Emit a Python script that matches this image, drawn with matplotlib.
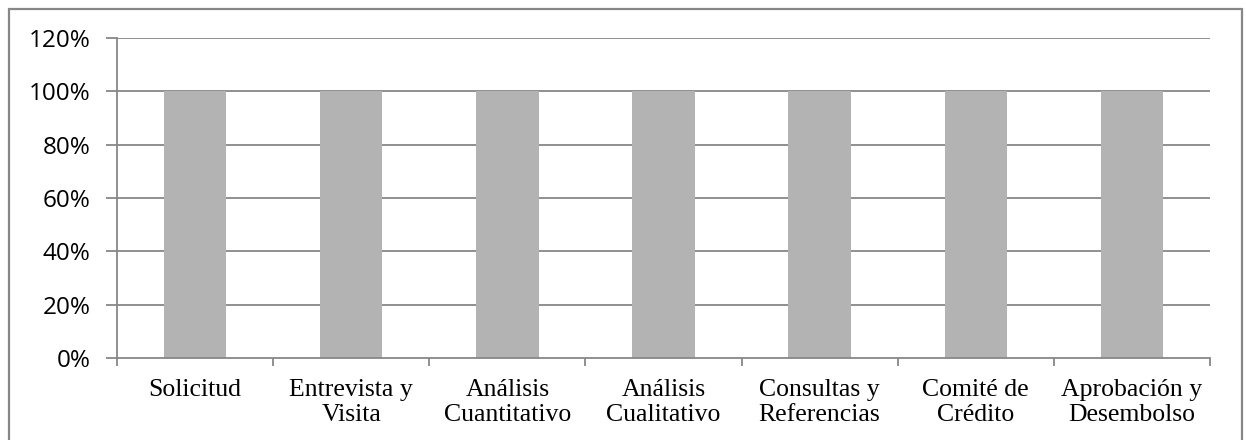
import matplotlib
matplotlib.use("Agg")
import matplotlib.pyplot as plt
from matplotlib.patches import Rectangle
from matplotlib.ticker import FixedLocator

categories = ["Solicitud", "Entrevista y\nVisita", "Análisis\nCuantitativo",
              "Análisis\nCualitativo", "Consultas y\nReferencias",
              "Comité de\nCrédito", "Aprobación y\nDesembolso"]
values = [1.0, 1.0, 1.0, 1.0, 1.0, 1.0, 1.0]
y_ticks = [0.0, 0.2, 0.4, 0.6, 0.8, 1.0, 1.2]
y_labels = ["0%", "20%", "40%", "60%", "80%", "100%", "120%"]

W, H = 1246, 440
fig = plt.figure(figsize=(W / 100, H / 100), dpi=100)

# chart frame (bottom edge runs past the canvas)
fig.patches.append(Rectangle((8.5 / W, -10 / H), 1233 / W, 440.5 / H,
                             transform=fig.transFigure, fill=False,
                             edgecolor="#878787", linewidth=1.6))

left, right, top, bottom = 117, 1210, 38, 358
ax = fig.add_axes([left / W, 1 - bottom / H, (right - left) / W, (bottom - top) / H])

n = len(categories)
x = list(range(n))
ax.bar(x, values, width=0.4, color="#b3b3b3", zorder=2)
ax.set_xlim(-0.5, n - 0.5)
ax.set_ylim(0, 1.2)

grid_c = "#878787"
ax.set_yticks(y_ticks)
ax.set_yticklabels(y_labels, fontfamily="Open Sans", fontsize=17.5)
for yv in y_ticks[1:]:
    ax.axhline(yv, color=grid_c, linewidth=1.3, zorder=1)

ax.set_xticks(x)
ax.set_xticklabels(categories, fontfamily="Liberation Serif", fontsize=18.5,
                   linespacing=1.2)
ax.xaxis.set_minor_locator(FixedLocator([i - 0.5 for i in range(n + 1)]))
ax.tick_params(axis="x", which="major", length=0, pad=15)
ax.tick_params(axis="x", which="minor", length=6, width=1.3, color=grid_c)
ax.tick_params(axis="y", length=8, width=1.3, color=grid_c, pad=11,
               direction="out")

for s in ["top", "right"]:
    ax.spines[s].set_visible(False)
for s in ["left", "bottom"]:
    ax.spines[s].set_color(grid_c)
    ax.spines[s].set_linewidth(1.3)

fig.savefig("out.png", dpi=100)
